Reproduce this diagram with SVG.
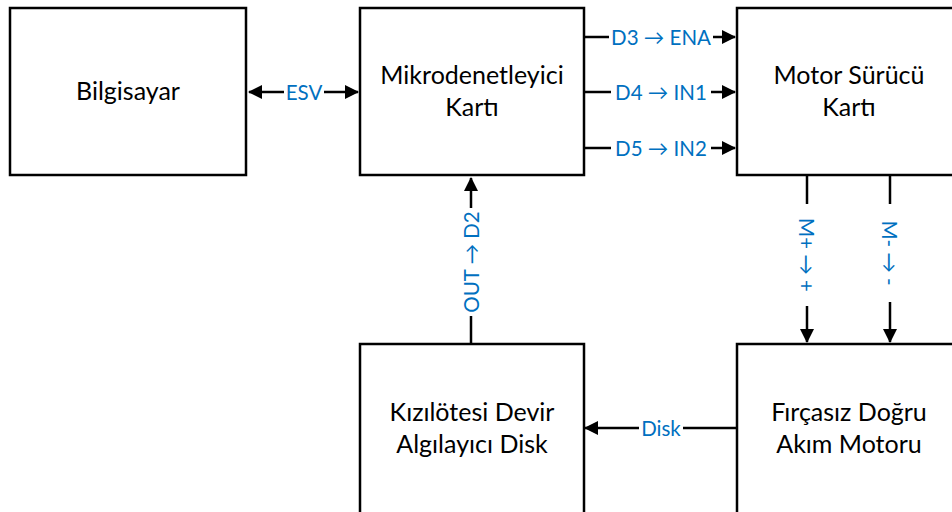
<svg xmlns="http://www.w3.org/2000/svg" width="952" height="512" viewBox="0 0 952 512">
<style>
.box{fill:#fff;stroke:#000;stroke-width:2.5}
.t{font-family:Lato,"Liberation Sans",sans-serif;font-size:25px;fill:#000;text-anchor:middle}
.l{font-family:Lato,"Liberation Sans",sans-serif;font-size:20.5px;fill:#0070C0;text-anchor:middle;dominant-baseline:central}
.c{stroke:#000;stroke-width:2.5;fill:none}
.bg{fill:#fff}
</style>
<defs>
<marker id="ahb" markerWidth="14" markerHeight="14" refX="13" refY="7" orient="auto-start-reverse" markerUnits="userSpaceOnUse" viewBox="0 0 14 14">
<path d="M0,0 L14,7 L0,14 Z" fill="#000"/>
</marker>
</defs>
<g id="connectors">
<line class="c" x1="249" y1="92" x2="358" y2="92" marker-start="url(#ahb)" marker-end="url(#ahb)"/>
<rect class="bg" x="284" y="80" width="40" height="24"/>
<text class="l" x="304" y="92">ESV</text>
<line class="c" x1="585" y1="37" x2="735" y2="37" marker-end="url(#ahb)"/>
<rect class="bg" x="609" y="25" width="104" height="24"/>
<text class="l" x="661" y="37">D3 → ENA</text>
<line class="c" x1="585" y1="92" x2="735" y2="92" marker-end="url(#ahb)"/>
<rect class="bg" x="611" y="80" width="100" height="24"/>
<text class="l" x="661" y="92">D4 → IN1</text>
<line class="c" x1="585" y1="148" x2="735" y2="148" marker-end="url(#ahb)"/>
<rect class="bg" x="611" y="136" width="100" height="24"/>
<text class="l" x="661" y="148">D5 → IN2</text>
<line class="c" x1="807" y1="176" x2="807" y2="342" marker-end="url(#ahb)"/>
<rect class="bg" x="795" y="204" width="24" height="102"/>
<text class="l" transform="translate(807,255) rotate(90)">M+ → +</text>
<line class="c" x1="890" y1="176" x2="890" y2="342" marker-end="url(#ahb)"/>
<rect class="bg" x="878" y="204" width="24" height="98"/>
<text class="l" transform="translate(890,253) rotate(90)">M- → -</text>
<line class="c" x1="471" y1="343" x2="471" y2="178" marker-end="url(#ahb)"/>
<rect class="bg" x="459" y="208" width="24" height="108"/>
<text class="l" transform="translate(471,262) rotate(-90)">OUT → D2</text>
<line class="c" x1="737" y1="428" x2="585" y2="428" marker-end="url(#ahb)"/>
<rect class="bg" x="639" y="416" width="44" height="24"/>
<text class="l" x="661" y="428">Disk</text>
</g>
<g id="bilgisayar">
<rect class="box" x="10" y="8" width="236" height="167"/>
<text class="t" x="128" y="100">Bilgisayar</text>
</g>
<g id="mikrodenetleyici">
<rect class="box" x="360" y="8" width="224" height="167"/>
<text class="t" x="472" y="84">Mikrodenetleyici</text>
<text class="t" x="472" y="116">Kartı</text>
</g>
<g id="motor-surucu">
<rect class="box" x="737" y="8" width="230" height="167"/>
<text class="t" x="849" y="84">Motor Sürücü</text>
<text class="t" x="849" y="116">Kartı</text>
</g>
<g id="kizilotesi">
<rect class="box" x="360" y="344" width="224" height="180"/>
<text class="t" x="472" y="421">Kızılötesi Devir</text>
<text class="t" x="472" y="453">Algılayıcı Disk</text>
</g>
<g id="fircasiz">
<rect class="box" x="737" y="344" width="230" height="180"/>
<text class="t" x="849" y="421">Fırçasız Doğru</text>
<text class="t" x="849" y="453">Akım Motoru</text>
</g>
</svg>
